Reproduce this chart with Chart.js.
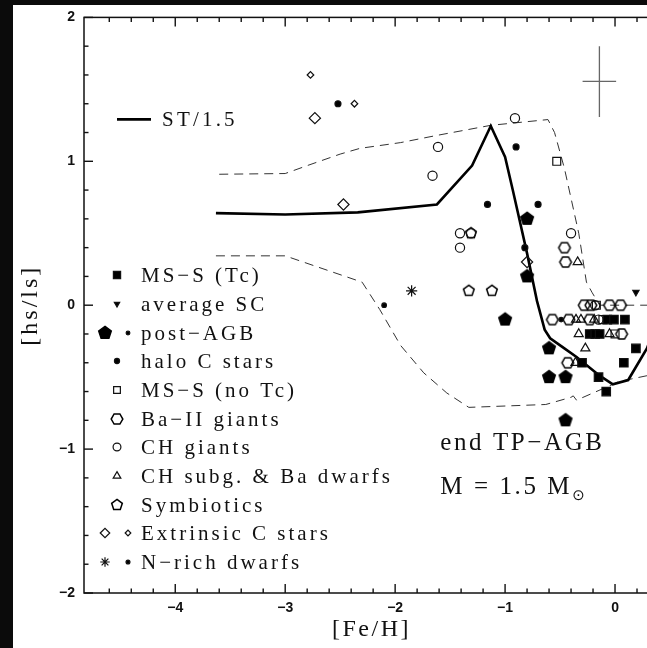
<!DOCTYPE html>
<html>
<head>
<meta charset="utf-8">
<script src="https://cdn.jsdelivr.net/npm/chart.js"></script>
<style>
  html, body { margin: 0; padding: 0; background: #0b0b0b; overflow: hidden; }
  #chart { position: absolute; left: 0; top: 0; }
</style>
</head>
<body>
<canvas id="chart" width="700" height="648"></canvas>
<script>
// values: x = [Fe/H], y = [hs/ls]
const msTcFe = [-0.07, -0.01, 0.09, -0.23, -0.18, -0.14, 0.19, 0.08, -0.30, -0.15, -0.08];
const msTcHs = [-0.10, -0.10, -0.10, -0.20, -0.20, -0.20, -0.30, -0.40, -0.40, -0.50, -0.60];
const avgScFe = [0.19];
const avgScHs = [0.09];
const postAgbFe = [-0.80, -0.80, -1.00, -0.60, -0.60, -0.45, -0.45];
const postAgbHs = [0.60, 0.20, -0.10, -0.30, -0.50, -0.50, -0.80];
const postAgbSmallFe = [-0.49];
const postAgbSmallHs = [-0.10];
const haloCFe = [-2.52, -0.90, -1.16, -0.70, -0.82];
const haloCHs = [1.40, 1.10, 0.70, 0.70, 0.40];
const msNoTcFe = [-0.53, -0.17, -0.11, 0.00];
const msNoTcHs = [1.00, 0.00, -0.10, -0.20];
const baIIFe = [-0.46, -0.45, -0.28, -0.22, -0.05, 0.05, -0.57, -0.42, -0.23, 0.06, -0.43];
const baIIHs = [0.40, 0.30, 0.00, 0.00, 0.00, 0.00, -0.10, -0.10, -0.10, -0.20, -0.40];
const chGiantFe = [-0.91, -1.61, -1.66, -1.41, -1.41, -1.31, -0.40, -0.18, -0.15];
const chGiantHs = [1.30, 1.10, 0.90, 0.50, 0.40, 0.50, 0.50, 0.00, -0.10];
const chSubgFe = [-0.34, -0.355, -0.31, -0.19, -0.33, -0.05, -0.27, -0.36];
const chSubgHs = [0.30, -0.10, -0.10, -0.10, -0.20, -0.20, -0.30, -0.40];
const symbFe = [-1.33, -1.12, -1.31];
const symbHs = [0.10, 0.10, 0.50];
const extrCFe = [-2.73, -2.47, -0.80];
const extrCHs = [1.30, 0.70, 0.30];
const extrCSmallFe = [-2.77, -2.37];
const extrCSmallHs = [1.60, 1.40];
const nRichFe = [-1.85];
const nRichHs = [0.10];
const nRichSmallFe = [-2.10];
const nRichSmallHs = [0.00];

// model curves
const st15Fe = [-3.63, -3.00, -2.34, -1.62, -1.30, -1.13, -1.00, -0.93, -0.80, -0.71, -0.64, -0.59, -0.48, -0.35, -0.14, -0.02, 0.12, 0.29, 0.36];
const st15Hs = [0.64, 0.63, 0.645, 0.70, 0.97, 1.245, 1.03, 0.80, 0.36, 0.03, -0.17, -0.23, -0.29, -0.36, -0.49, -0.55, -0.52, -0.30, -0.16];
const upperFe = [-3.60, -3.00, -2.80, -2.50, -2.32, -1.95, -1.62, -1.13, -0.61, -0.55, -0.46, -0.33, -0.26, -0.21, -0.14, 0.40];
const upperHs = [0.91, 0.915, 0.97, 1.05, 1.09, 1.13, 1.18, 1.25, 1.29, 1.20, 0.95, 0.50, 0.16, 0.09, 0.00, 0.00];
const lowerFe = [-3.63, -3.00, -2.30, -2.14, -1.95, -1.74, -1.53, -1.33, -0.63, -0.40, -0.38, -0.35, -0.20, 0.04, 0.29, 0.40];
const lowerHs = [0.343, 0.343, 0.16, -0.03, -0.28, -0.47, -0.61, -0.71, -0.69, -0.64, -0.63, -0.66, -0.61, -0.53, -0.49, -0.46];

// typical error bar
const errFe = [-0.295, 0.01];
const errHs = [1.307, 1.80];
const errCenter = [-0.142, 1.555];

const xMin = -4.83, xMax = 0.40;
const yMin = -2, yMax = 2;

const legendRows = ['MS\u2212S (Tc)', 'average SC', 'post\u2212AGB', 'halo C stars', 'MS\u2212S (no Tc)',
    'Ba\u2212II giants', 'CH giants', 'CH subg. & Ba dwarfs', 'Symbiotics', 'Extrinsic C stars', 'N\u2212rich dwarfs'];

const SERIF = '"Liberation Serif", "DejaVu Serif", serif';

function pts(xs, ys) {
    return xs.map((x, i) => ({ x: x, y: ys[i] }));
}

// pentagon / hexagon markers are not built into Chart.js
function polygonMarker(sides, r, filled, startDeg) {
    const c = document.createElement('canvas');
    const s = 2 * Math.ceil(r + 2);
    c.width = s; c.height = s;
    const g = c.getContext('2d');
    g.beginPath();
    for (let i = 0; i < sides; i++) {
        const a = (startDeg + i * 360 / sides) * Math.PI / 180;
        const px = s / 2 + r * Math.cos(a), py = s / 2 + r * Math.sin(a);
        if (i) g.lineTo(px, py); else g.moveTo(px, py);
    }
    g.closePath();
    if (filled) { g.fillStyle = '#000'; g.fill(); }
    g.lineWidth = 1.5;
    g.strokeStyle = '#000';
    g.stroke();
    return c;
}

const bigPentagon = polygonMarker(5, 6.6, true, -90);
const openPentagon = polygonMarker(5, 5.6, false, -90);
const hexagon = polygonMarker(6, 5.8, false, 0);

const OPEN = 'rgba(0,0,0,0)';

function marker(label, row, xs, ys, style, extra) {
    return Object.assign({
        label: label,
        legendRow: row,
        data: pts(xs, ys),
        pointStyle: style,
        pointRadius: 4,
        pointBorderWidth: 1.2,
        borderColor: '#111',
        backgroundColor: '#000',
        showLine: false
    }, extra || {});
}

function curve(label, xs, ys, width, dash, color) {
    return {
        label: label,
        data: pts(xs, ys),
        showLine: true,
        pointRadius: 0,
        borderColor: color,
        borderWidth: width,
        borderDash: dash,
        fill: false,
        tension: 0
    };
}

const datasets = [
    marker('MS-S (Tc)', 0, msTcFe, msTcHs, 'rect', { pointRadius: 6 }),
    marker('average SC', 1, avgScFe, avgScHs, 'triangle', { pointRadius: 3.6, pointRotation: 180 }),
    marker('post-AGB', 2, postAgbFe, postAgbHs, bigPentagon, { pointRadius: 6 }),
    marker('post-AGB small', 2, postAgbSmallFe, postAgbSmallHs, 'circle', { pointRadius: 2.2 }),
    marker('halo C stars', 3, haloCFe, haloCHs, 'circle', { pointRadius: 3 }),
    marker('MS-S (no Tc)', 4, msNoTcFe, msNoTcHs, 'rect', { pointRadius: 5.6, backgroundColor: OPEN }),
    marker('Ba-II giants', 5, baIIFe, baIIHs, hexagon, { pointRadius: 5 }),
    marker('CH giants', 6, chGiantFe, chGiantHs, 'circle', { pointRadius: 4.6, backgroundColor: OPEN }),
    marker('CH subg. & Ba dwarfs', 7, chSubgFe, chSubgHs, 'triangle', { pointRadius: 5.2, backgroundColor: OPEN }),
    marker('Symbiotics', 8, symbFe, symbHs, openPentagon, { pointRadius: 5 }),
    marker('Extrinsic C stars', 9, extrCFe, extrCHs, 'rectRot', { pointRadius: 5.6, backgroundColor: OPEN }),
    marker('Extrinsic C small', 9, extrCSmallFe, extrCSmallHs, 'rectRot', { pointRadius: 3.3, backgroundColor: OPEN }),
    marker('N-rich dwarfs', 10, nRichFe, nRichHs, 'star', { pointRadius: 5.6, pointBorderWidth: 1.2 }),
    marker('N-rich small', 10, nRichSmallFe, nRichSmallHs, 'circle', { pointRadius: 2.3 }),
    curve('ST/1.5', st15Fe, st15Hs, 2.6, [], '#000'),
    curve('upper', upperFe, upperHs, 1, [9, 6], '#333'),
    curve('lower', lowerFe, lowerHs, 1, [9, 6], '#333'),
    curve('err x', errFe, [errCenter[1], errCenter[1]], 1.3, [], '#666'),
    curve('err y', [errCenter[0], errCenter[0]], errHs, 1.3, [], '#666')
];

function tickLabel(v) {
    if (Math.abs(v - Math.round(v)) > 1e-6) return '';
    const n = Math.round(v);
    return n < 0 ? '\u2212' + Math.abs(n) : String(n);
}

function line(ctx, x1, y1, x2, y2) {
    ctx.beginPath();
    ctx.moveTo(x1, y1);
    ctx.lineTo(x2, y2);
    ctx.stroke();
}

const decorations = {
    id: 'decorations',
    beforeDraw(chart) {
        const ctx = chart.ctx;
        ctx.save();
        ctx.fillStyle = '#0b0b0b';
        ctx.fillRect(0, 0, chart.width, chart.height);
        ctx.fillStyle = '#fff';
        ctx.fillRect(13, 5, chart.width - 13, chart.height - 5);
        ctx.restore();
    },
    afterDraw(chart) {
        const ctx = chart.ctx;
        const { left, right, top, bottom } = chart.chartArea;
        const xs = chart.scales.x, ys = chart.scales.y;
        ctx.save();

        // frame and inward ticks
        ctx.strokeStyle = '#111';
        ctx.lineWidth = 1.5;
        ctx.strokeRect(left, top, right - left, bottom - top);
        ctx.lineWidth = 1.4;
        xs.ticks.forEach(t => {
            const v = t.value;
            if (Math.abs(v * 5 - Math.round(v * 5)) > 1e-6) return;
            const len = Math.abs(v - Math.round(v)) < 1e-6 ? 9 : 4.5;
            const px = xs.getPixelForValue(v);
            line(ctx, px, bottom, px, bottom - len);
            line(ctx, px, top, px, top + len);
        });
        ys.ticks.forEach(t => {
            const v = t.value;
            if (Math.abs(v * 5 - Math.round(v * 5)) > 1e-6) return;
            const len = Math.abs(v - Math.round(v)) < 1e-6 ? 9 : 4.5;
            const py = ys.getPixelForValue(v);
            line(ctx, left, py, left + len, py);
            line(ctx, right, py, right - len, py);
        });

        // axis titles
        ctx.fillStyle = '#111';
        ctx.font = '24px ' + SERIF;
        ctx.letterSpacing = '2.5px';
        ctx.textAlign = 'center';
        ctx.textBaseline = 'middle';
        ctx.fillText('[Fe/H]', (left + right) / 2, 630);
        ctx.save();
        ctx.translate(31, (top + bottom) / 2);
        ctx.rotate(-Math.PI / 2);
        ctx.letterSpacing = '3px';
        ctx.fillText('[hs/ls]', 0, 0);
        ctx.restore();

        // ST/1.5 key
        ctx.textAlign = 'left';
        ctx.textBaseline = 'alphabetic';
        ctx.strokeStyle = '#000';
        ctx.lineWidth = 2.6;
        line(ctx, left + 33, top + 102, left + 67, top + 102);
        ctx.font = '21px ' + SERIF;
        ctx.letterSpacing = '3.2px';
        ctx.fillText('ST/1.5', left + 78, top + 109);

        // marker legend
        legendRows.forEach((text, i) => {
            const cy = top + 258 + i * 28.67;
            const sets = chart.data.datasets.filter(d => d.legendRow === i);
            const xsPos = sets.length > 1 ? [left + 21, left + 44] : [left + 33];
            sets.forEach((d, j) => {
                ctx.fillStyle = d.backgroundColor;
                ctx.strokeStyle = d.borderColor;
                ctx.lineWidth = d.pointBorderWidth;
                Chart.helpers.drawPoint(ctx, {
                    pointStyle: d.pointStyle,
                    rotation: d.pointRotation || 0,
                    radius: d.pointRadius * 0.85,
                    borderWidth: d.pointBorderWidth
                }, Math.round(xsPos[j]), Math.round(cy));
            });
            ctx.fillStyle = '#111';
            ctx.font = '21px ' + SERIF;
            ctx.letterSpacing = '3px';
            ctx.fillText(text, left + 57, cy + 7);
        });

        // model annotation
        ctx.font = '25px ' + SERIF;
        ctx.letterSpacing = '2.6px';
        const ax = xs.getPixelForValue(-1.59);
        ctx.fillText('end TP\u2212AGB', ax, ys.getPixelForValue(-0.95) + 8);
        const my = ys.getPixelForValue(-1.257) + 8;
        const mText = 'M = 1.5 M';
        ctx.fillText(mText, ax, my);
        const w = ctx.measureText(mText).width;
        ctx.font = '15px "DejaVu Sans", sans-serif';
        ctx.letterSpacing = '0px';
        ctx.fillText('\u2299', ax + w, my + 6);

        ctx.restore();
    }
};

const ctx = document.getElementById('chart').getContext('2d');
new Chart(ctx, {
    type: 'scatter',
    data: { datasets: datasets },
    options: {
        responsive: false,
        devicePixelRatio: 1,
        animation: false,
        layout: { padding: { left: 0, top: 17, right: 41, bottom: 0 } },
        plugins: { legend: { display: false }, tooltip: { enabled: false } },
        scales: {
            x: {
                type: 'linear',
                min: xMin,
                max: xMax,
                afterFit: s => { s.height = 55; },
                grid: { display: false, drawTicks: false },
                border: { display: false },
                ticks: {
                    stepSize: 0.2,
                    autoSkip: false,
                    maxRotation: 0,
                    maxTicksLimit: 100,
                    padding: 7,
                    color: '#111',
                    font: { family: '"Liberation Sans", Arial, sans-serif', weight: 'bold', size: 14 },
                    callback: tickLabel
                }
            },
            y: {
                type: 'linear',
                min: yMin,
                max: yMax,
                afterFit: s => { s.width = 84; },
                grid: { display: false, drawTicks: false },
                border: { display: false },
                ticks: {
                    stepSize: 0.2,
                    autoSkip: false,
                    maxTicksLimit: 100,
                    padding: 9,
                    color: '#111',
                    font: { family: '"Liberation Sans", Arial, sans-serif', weight: 'bold', size: 14 },
                    callback: tickLabel
                }
            }
        }
    },
    plugins: [decorations]
});
</script>
</body>
</html>
